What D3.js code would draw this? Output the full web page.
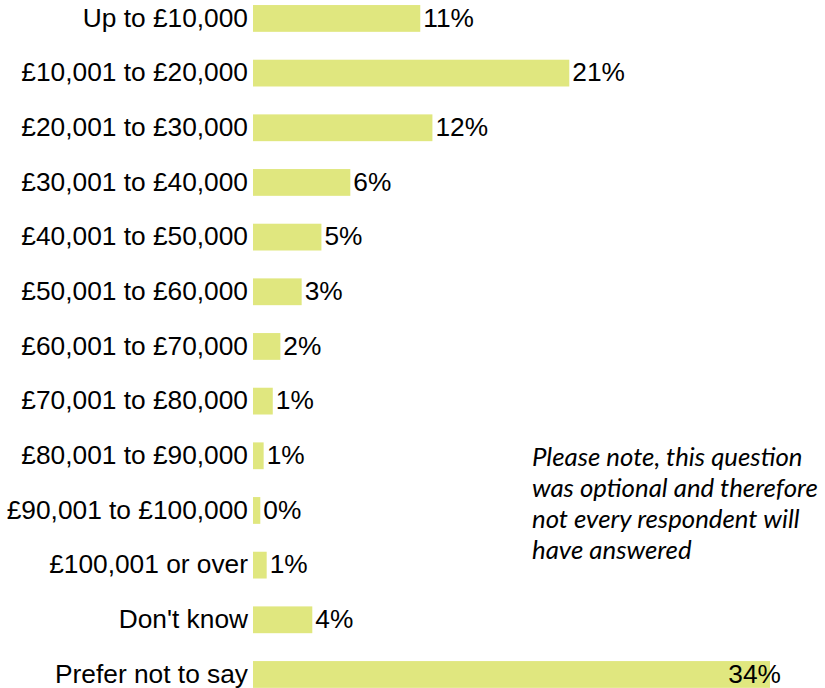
<!DOCTYPE html>
<html>
<head>
<meta charset="utf-8">
<script src="https://cdn.jsdelivr.net/npm/d3@7"></script>
<style>
  body { margin: 0; background: #fff; }
  text { font-family: "Liberation Sans", Arial, sans-serif; fill: #000; }
</style>
</head>
<body>
<div id="chart"></div>
<script>
// income bands and share of respondents (%)
const categories = [
  "Up to £10,000", "£10,001 to £20,000", "£20,001 to £30,000", "£30,001 to £40,000",
  "£40,001 to £50,000", "£50,001 to £60,000", "£60,001 to £70,000", "£70,001 to £80,000",
  "£80,001 to £90,000", "£90,001 to £100,000", "£100,001 or over", "Don't know",
  "Prefer not to say"
];
const values = [11.0, 20.8, 11.8, 6.4, 4.5, 3.2, 1.8, 1.3, 0.7, 0.48, 0.9, 3.9, 34.0];
const noteLines = [
  "Please note, this question",
  "was optional and therefore",
  "not every respondent will",
  "have answered"
];

const svgWidth = 825;
const svgHeight = 688;
const barColor = "#e0e77f";

const data = categories.map((c, i) => ({ cat: c, val: values[i] }));

const svg = d3.select("#chart")
  .append("svg")
  .attr("width", svgWidth)
  .attr("height", svgHeight);

const x = d3.scaleLinear()
  .domain([0, 34])
  .range([253, 770]);

const y = d3.scaleBand()
  .domain(categories)
  .range([-8.9, 701.8])
  .paddingInner(0.51)
  .paddingOuter(0.255);

// bars
svg.selectAll("rect.bar")
  .data(data)
  .enter()
  .append("rect")
  .attr("class", "bar")
  .attr("x", x(0))
  .attr("y", d => y(d.cat))
  .attr("width", d => x(d.val) - x(0))
  .attr("height", y.bandwidth())
  .attr("fill", barColor);

// category labels
svg.selectAll("text.cat")
  .data(data)
  .enter()
  .append("text")
  .attr("class", "cat")
  .attr("x", x(0) - 5)
  .attr("y", d => y(d.cat) + y.bandwidth() / 2)
  .attr("dy", "0.31em")
  .attr("text-anchor", "end")
  .style("font-size", "26.3px")
  .text(d => d.cat);

// value labels, pulled back inside when they'd run past the plot edge
const plotRight = 781;
svg.selectAll("text.val")
  .data(data)
  .enter()
  .append("text")
  .attr("class", "val")
  .attr("y", d => y(d.cat) + y.bandwidth() / 2)
  .attr("dy", "0.31em")
  .style("font-size", "26.3px")
  .text(d => Math.round(d.val) + "%")
  .each(function(d) {
    const w = this.getComputedTextLength();
    let xx = x(d.val) + 3;
    if (xx + w > plotRight) xx = plotRight - w;
    d3.select(this).attr("x", xx);
  });

// note
svg.append("g")
  .selectAll("text")
  .data(noteLines)
  .enter()
  .append("text")
  .attr("x", 532)
  .attr("y", (d, i) => 466 + i * 31)
  .style("font-family", "Lato, 'Open Sans', sans-serif")
  .style("font-style", "italic")
  .style("font-size", "25.8px")
  .text(d => d);
</script>
</body>
</html>
